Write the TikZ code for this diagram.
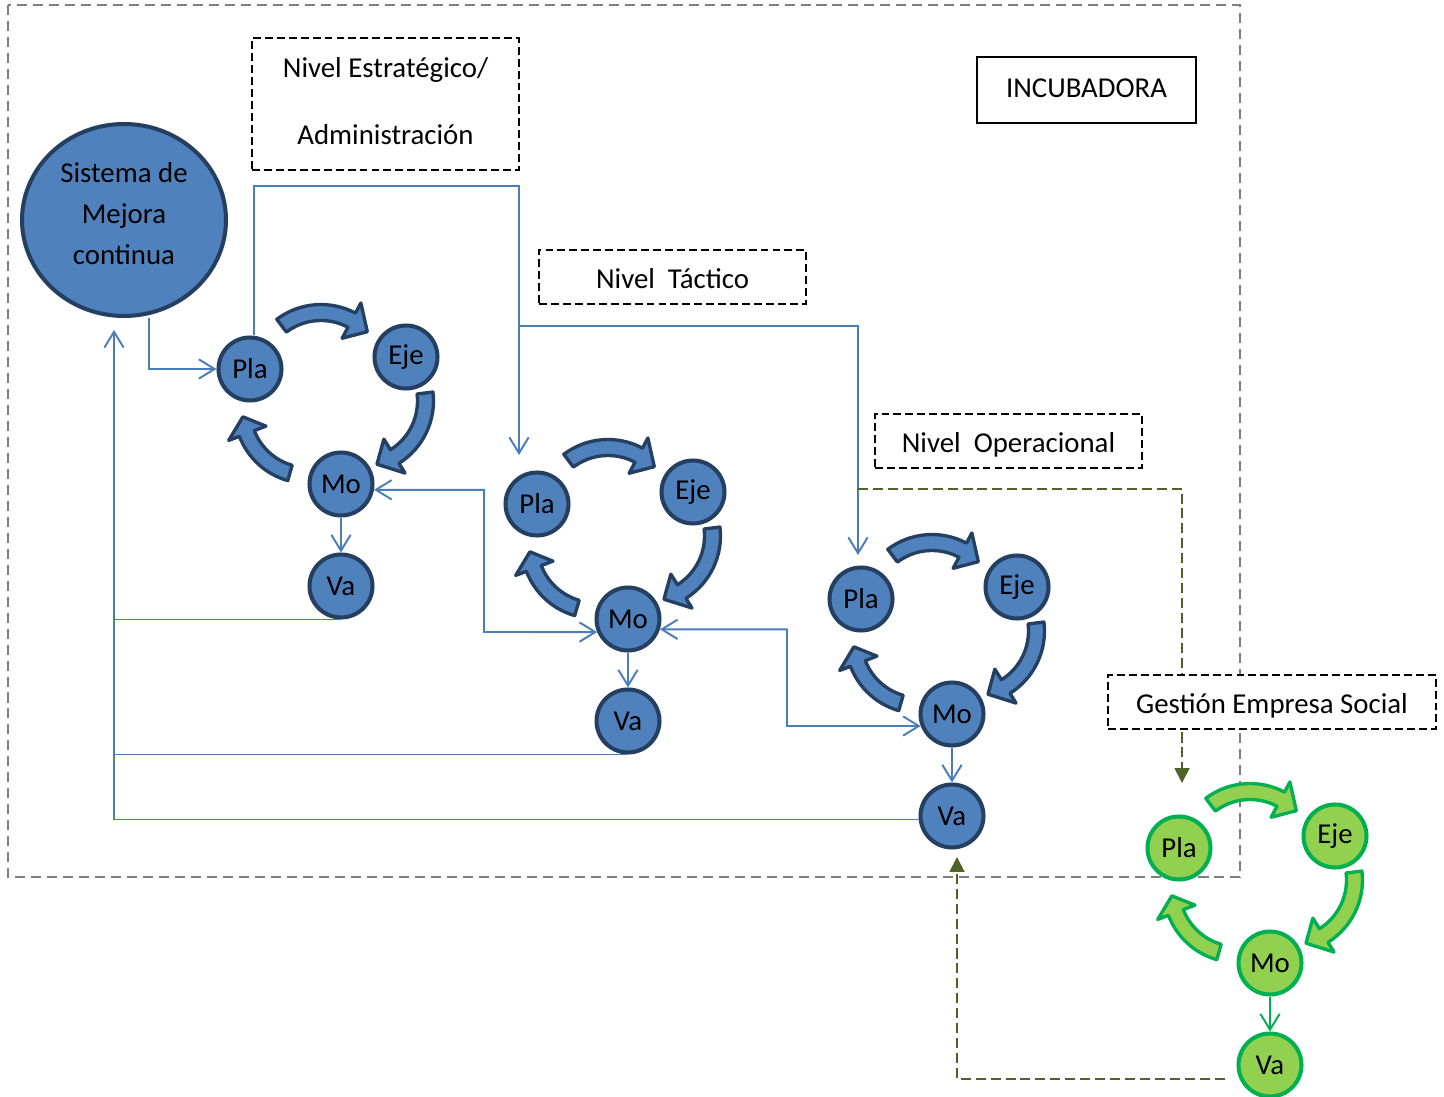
\documentclass[tikz,border=0pt]{standalone}
\usepackage{fontspec}
\setmainfont{Carlito}
\usepackage{tikz}
\usepackage{xcolor}
\usetikzlibrary{arrows.meta, calc, positioning, shapes.geometric}

\definecolor{azulrelleno}{HTML}{4F81BD}
\definecolor{azulborde}{HTML}{243F60}
\definecolor{azullinea}{HTML}{4A7EBB}
\definecolor{verderelleno}{HTML}{92D050}
\definecolor{verdeborde}{HTML}{00B050}
\definecolor{oliva}{HTML}{4F6228}
\definecolor{gris}{HTML}{7F7F7F}

\begin{document}
\begin{tikzpicture}[x=0.02cm, y=0.02cm,
  font=\fontsize{16.4}{19.7}\selectfont,
  >={Straight Barb[length=9pt,width=11pt]},
  azul/.style={circle, fill=azulrelleno, draw=azulborde, line width=2.3pt, minimum size=1.26cm, inner sep=0pt},
  verde/.style={circle, fill=verderelleno, draw=verdeborde, line width=2.3pt, minimum size=1.26cm, inner sep=0pt},
  flecha azul/.style={fill=azulrelleno, draw=azulborde, line width=1.9pt, line join=round},
  flecha verde/.style={fill=verderelleno, draw=verdeborde, line width=1.9pt, line join=round},
  enlace azul/.style={draw=azullinea, line width=1.1pt},
  enlace verde/.style={draw=verdeborde, line width=1.1pt},
  linea/.style={draw=azullinea, line width=1.1pt},
  olivo/.style={draw=oliva, line width=1.1pt, dash pattern=on 5.7pt off 2.8pt, -{Triangle[length=8.5pt,width=8.5pt]}},
  nivel/.style={draw=black, fill=white, line width=1.1pt, dash pattern=on 4.5pt off 2.3pt}]
  \useasboundingbox (0,0) rectangle (1444,-1097);

  % Incubadora
  \draw[draw=gris, line width=1.1pt, dash pattern=on 5.7pt off 3.4pt] (8,-5) rectangle (1240,-877);

  % Sistema de mejora
  \node[ellipse, fill=azulrelleno, draw=azulborde, line width=2.3pt, minimum width=4.08cm, minimum height=3.84cm,
    inner sep=0pt, align=center, text depth=0.26cm, font=\fontsize{16.4}{23.2}\selectfont] (sistema) at (124,-220) {Sistema de\\Mejora\\continua};

  % Ciclos PDCA
  \foreach \n/\dx/\dy/\st in {1/0/0/azul, 2/287/135/azul, 3/611/230/azul, 4/929/479/verde} {
    \begin{scope}[shift={(\dx,-\dy)}]
      \node[\st] (pla\n) at (250,-369) {Pla};
      \node[\st] (eje\n) at (406,-357) {Eje};
      \node[\st] (mo\n)  at (341,-484) {Mo};
      \node[\st] (va\n)  at (341,-586) {Va};
      \foreach \cx/\cy/\ta/\tb/\tc in {321/378/127/62/45, 360/401/7/-58/-75, 308/410/254/201/186}
        \draw[flecha \st, shift={(\cx,-\cy)}] (\ta:1.47cm) arc[start angle=\ta, end angle=\tb, radius=1.47cm]
          -- (\tb:1.7cm) -- (\tc:1.31cm) -- (\tb:0.9cm) -- (\tb:1.15cm)
          arc[start angle=\tb, end angle=\ta, radius=1.15cm] -- cycle;
    \end{scope}
    \draw[enlace \st, ->] (mo\n) -- (va\n);
  }

  % Entrada y bajada por niveles
  \coordinate (tactico) at (519,-455);
  \coordinate (operativo) at (858,-555);
  \draw[linea, ->] ($(sistema.south)+(25,0)$) |- (pla1);
  \draw[linea, ->] ($(pla1.north)+(4,0)$) |- (519,-186) -- (tactico);
  \draw[linea, ->] (519,-326) -| (operativo);

  % Retorno al sistema de mejora
  \coordinate (retorno) at (114,-330);
  \draw[linea, ->] (va3.186) -| (retorno);
  \draw[linea] (va1.south) -- (va1.south -| retorno);
  \draw[linea] (va2.south) -- (va2.south -| retorno);

  % Monitoreo entre niveles
  \draw[linea, <->] (mo1.-10) -| (484,-632) -- (mo2.203);
  \draw[linea, <->] (mo2.-18) -| (787,-726) -- (mo3.201);

  % Empresa social
  \coordinate (gestion) at (1182,-783);
  \coordinate (valor) at (957,-857);
  \draw[olivo] (858,-489) -| (gestion);
  \draw[olivo, shorten <=0.3cm] (va4.205) -| (valor);

  % Etiquetas
  \node[nivel, minimum width=5.34cm, minimum height=2.64cm, align=center, text depth=0.12cm,
    font=\fontsize{16.4}{38.6}\selectfont] (estrategico) at (385.5,-104) {Nivel Estratégico/\\Administración};
  \node[nivel, minimum width=5.34cm, minimum height=1.08cm, text height=13.6pt, text depth=0pt] (tacticobox) at (672.5,-277) {Nivel\ \ Táctico};
  \node[nivel, minimum width=5.34cm, minimum height=1.08cm, text height=13.6pt, text depth=0pt] (operacional) at (1008.5,-441) {Nivel\ \ Operacional};
  \node[nivel, minimum width=6.56cm, minimum height=1.08cm, text height=13.6pt, text depth=0pt] (empresa) at (1272,-702) {Gestión Empresa Social};
  \node[draw=black, line width=1.1pt, minimum width=4.38cm, minimum height=1.32cm, text height=8.4pt, text depth=0pt] (incubadora) at (1086.5,-90) {INCUBADORA};
\end{tikzpicture}
\end{document}
